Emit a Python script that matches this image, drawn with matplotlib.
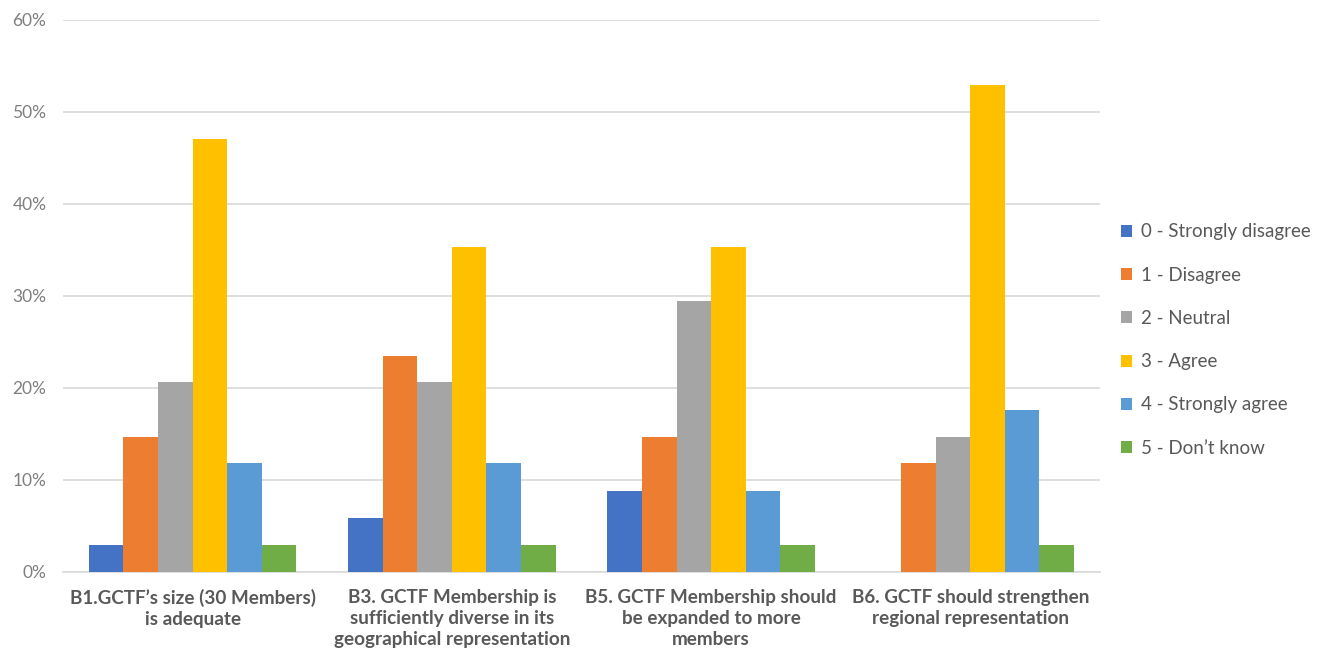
from matplotlib import pyplot as plt
import numpy as np

plt.rcParams['font.family'] = ['Lato', 'DejaVu Sans']

categories = [
    'B1.GCTF\u2019s size (30 Members)\nis adequate',
    'B3. GCTF Membership is\nsufficiently diverse in its\ngeographical representation',
    'B5. GCTF Membership should\nbe expanded to more\nmembers',
    'B6. GCTF should strengthen\nregional representation',
]
series_names = [
    '0 - Strongly disagree',
    '1 - Disagree',
    '2 - Neutral',
    '3 - Agree',
    '4 - Strongly agree',
    '5 - Don\u2019t know',
]
strongly_disagree = [2.9, 5.9, 8.8, 0.0]
disagree = [14.7, 23.5, 14.7, 11.8]
neutral = [20.6, 20.6, 29.4, 14.7]
agree = [47.1, 35.3, 35.3, 52.9]
strongly_agree = [11.8, 11.8, 8.8, 17.6]
dont_know = [2.9, 2.9, 2.9, 2.9]

colors = ['#4472C4', '#ED7D31', '#A5A5A5', '#FFC000', '#5B9BD5', '#70AD47']


def main():
    fig = plt.figure(figsize=(13.23, 6.51), dpi=100)
    ax = fig.add_axes([0.0476, 0.1214, 0.7838, 0.848])

    data = [strongly_disagree, disagree, neutral, agree, strongly_agree, dont_know]
    x = np.arange(len(categories))
    width = 0.8 / len(data)
    for i, (vals, name) in enumerate(zip(data, series_names)):
        ax.bar(x - 0.4 + width * (i + 0.5), vals, width,
               color=colors[i], label=name, zorder=3)

    ax.set_xlim(-0.5, len(categories) - 0.5)
    ax.set_ylim(0, 60)
    ax.set_yticks(range(0, 61, 10))
    ax.set_yticklabels([f'{v}%' for v in range(0, 61, 10)])
    ax.yaxis.grid(True, color='#D9D9D9', linewidth=1.2, zorder=0)
    for s in ['top', 'right', 'left']:
        ax.spines[s].set_visible(False)
    ax.spines['bottom'].set_color('#D9D9D9')
    ax.spines['bottom'].set_linewidth(1.2)
    ax.tick_params(axis='both', length=0)
    ax.tick_params(axis='y', labelsize=12.5, labelcolor='#7F7F7F', pad=12)

    ax.set_xticks(x)
    ax.set_xticklabels(categories, fontsize=13.6, fontweight='bold',
                       color='#595959', linespacing=1.3)
    ax.tick_params(axis='x', pad=12)

    ax.legend(loc='center left', bbox_to_anchor=(1.004, 0.42), frameon=False,
              fontsize=13.5, labelcolor='#595959', handlelength=0.6,
              handleheight=0.6, handletextpad=0.45, labelspacing=1.4)

    plt.savefig('out.png', dpi=100)


if __name__ == "__main__":
    main()
